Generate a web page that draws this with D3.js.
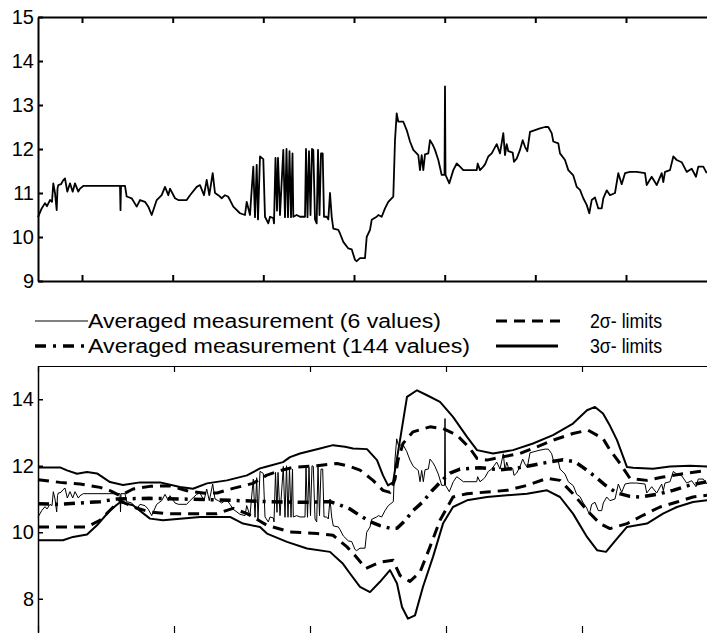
<!DOCTYPE html>
<html>
<head>
<meta charset="utf-8">
<script src="https://cdnjs.cloudflare.com/ajax/libs/d3/7.8.5/d3.min.js"></script>
<style>
  body { margin: 0; background: #fff; }
  svg { display: block; font-family: "Liberation Sans", Arial, sans-serif; }
</style>
</head>
<body>
<div id="chart"></div>
<script>

// averaged measurement over 6 values (top panel, thin line in bottom panel)
const avg6 = [[0,10.45],[3.7,10.65],[7,10.77],[9,10.7],[12,10.84],[14,10.8],[15.3,11.22],[17,11.0],[18.7,10.61],[19.5,11.1],[20.3,11.18],[23,11.2],[25,11.28],[27,11.33],[29.3,11.03],[32,11.22],[34.7,11.03],[37,11.22],[40.3,11.03],[42,11.1],[45.3,11.16],[82,11.16],[82.5,10.61],[83,11.16],[87,11.16],[88.7,10.92],[93.7,10.88],[98.7,10.69],[102,10.84],[107,10.8],[110.3,10.69],[113.7,10.5],[118.7,10.84],[123.7,10.95],[127,11.14],[130.3,10.95],[132,11.1],[137,10.88],[140.3,10.84],[148.7,10.84],[152,10.95],[158.7,11.14],[162,11.18],[166,10.95],[168.7,11.3],[171.3,10.95],[174.7,11.45],[177,11.0],[180.3,10.95],[183.7,10.88],[187,10.95],[190,10.92],[192,10.84],[195.3,10.69],[202,10.54],[207,10.5],[208.7,10.8],[212,10.5],[213,10.85],[215.3,11.6],[217,10.45],[218.7,11.64],[220,10.4],[222,11.83],[225.3,11.77],[227,10.46],[230.3,10.31],[232,10.46],[235.3,10.43],[236,10.31],[237.5,11.8],[239,10.6],[240,11.8],[242,10.5],[245.3,11.98],[247,10.45],[248.5,12.0],[250,10.45],[251.5,11.95],[253,10.45],[254.5,11.9],[255.3,10.46],[258.7,10.5],[262,10.46],[267,10.46],[268,12.0],[269.5,10.45],[271,11.95],[272.5,10.5],[274,12.0],[275.3,11.98],[277,10.4],[278.7,10.31],[280,11.98],[281.5,10.5],[283,11.9],[284.7,11.9],[286,10.46],[288.7,10.46],[290.3,10.4],[292,11.0],[293.7,10.46],[295.3,10.19],[300.3,10.16],[302,10.08],[305.3,9.89],[310.3,9.74],[313.7,9.72],[317,9.48],[318.7,9.45],[322,9.52],[327,9.52],[328.7,10.0],[332,10.16],[333.7,10.39],[338.7,10.46],[340.3,10.5],[343.7,10.46],[347,10.65],[350.3,10.8],[355.3,10.92],[357,12.2],[358.7,12.81],[360.3,12.62],[365.3,12.62],[368.7,12.43],[372,12.17],[375.3,11.98],[380.3,11.86],[382,11.52],[383.7,11.86],[385.3,11.52],[387,11.88],[390.3,11.9],[392,12.2],[394.7,12.1],[397,11.98],[400.3,11.75],[403.7,11.41],[406.5,11.41],[407,13.42],[407.5,11.41],[411.3,11.22],[415.3,11.52],[418.7,11.67],[422,11.6],[425.3,11.52],[438.7,11.52],[439.7,11.67],[442,11.52],[445.3,11.6],[447,11.65],[450.3,11.83],[453.7,11.9],[458.7,12.11],[462,11.9],[465.3,12.36],[467,11.86],[468.7,12.11],[470.3,11.95],[474.7,11.92],[476,11.71],[478.7,11.78],[482,11.98],[484.7,12.2],[487,12.05],[489.3,11.95],[492,12.39],[497,12.43],[502,12.47],[507,12.5],[510.3,12.5],[513.7,12.36],[515.3,12.17],[520.3,12.13],[522,11.9],[527,11.75],[530.3,11.52],[535.3,11.4],[538.7,11.14],[542,11.07],[545.3,10.88],[548.7,10.73],[551.3,10.54],[553.7,10.84],[557,10.9],[560.3,10.65],[563.7,10.65],[565.3,10.88],[568.7,11.06],[572,10.95],[577,11.0],[580.3,11.45],[583.7,11.2],[587,11.45],[592,11.48],[598.7,11.48],[607,11.45],[608.7,11.18],[613.7,11.37],[618.7,11.18],[623.7,11.45],[625.3,11.25],[627,11.48],[632,11.52],[635.3,11.83],[638.7,11.75],[643.7,11.7],[648.7,11.48],[653.7,11.55],[658,11.37],[660.3,11.6],[665.3,11.6],[668.7,11.45]];

// averaged measurement over 144 values
const avg144 = [[0,10.86],[22,10.84],[42,10.88],[62,10.92],[79,11.0],[112,11.02],[142,11.0],[172,10.98],[202,10.95],[232,10.92],[262,10.9],[292,10.92],[302,10.82],[312,10.7],[322,10.5],[332,10.32],[342,10.2],[352,10.12],[359,10.12],[367,10.35],[375,10.65],[385,10.92],[394,11.25],[402,11.5],[412,11.78],[422,11.9],[442,11.94],[462,11.88],[477,11.92],[492,12.0],[509,12.1],[525,12.18],[537,12.12],[545,11.95],[557,11.68],[567,11.42],[579,11.18],[592,11.08],[602,11.06],[619,11.14],[635,11.26],[652,11.42],[669,11.52]];

// 2 sigma limits
const sigma2Upper = [[0,11.58],[22,11.5],[42,11.45],[62,11.35],[72,11.25],[82,11.1],[95,11.3],[112,11.38],[132,11.4],[149,11.25],[167,11.17],[179,11.18],[195,11.32],[215,11.47],[229,11.72],[242,11.85],[255,11.95],[279,12.0],[299,12.07],[312,11.98],[322,11.87],[335,11.56],[345,11.26],[352,11.2],[357,11.6],[360,12.17],[365,12.67],[375,13.02],[392,13.17],[405,13.12],[419,12.92],[432,12.52],[439,12.22],[449,12.17],[465,12.27],[482,12.37],[499,12.57],[515,12.77],[535,12.97],[550,13.07],[565,12.82],[572,12.47],[582,12.07],[592,11.62],[609,11.56],[625,11.66],[645,11.76],[669,11.86]];
const sigma2Lower = [[0,10.16],[49,10.16],[62,10.36],[72,10.66],[82,10.95],[95,10.76],[112,10.61],[129,10.56],[179,10.56],[195,10.72],[209,10.56],[229,10.21],[252,10.01],[279,9.96],[295,9.91],[309,9.56],[317,9.3],[328,8.91],[342,9.1],[355,9.16],[362,8.7],[372,8.52],[382,8.8],[392,9.56],[402,10.36],[415,11.06],[429,11.16],[449,11.21],[469,11.26],[489,11.41],[509,11.62],[522,11.56],[535,11.16],[549,10.66],[562,10.26],[572,10.11],[589,10.26],[605,10.51],[622,10.76],[639,10.91],[655,11.06],[669,11.11]];

// 3 sigma limits
const sigma3Upper = [[0,11.95],[22,11.95],[29,11.86],[39,11.76],[49,11.81],[59,11.77],[72,11.51],[85,11.42],[102,11.5],[122,11.5],[142,11.36],[155,11.31],[169,11.47],[189,11.56],[209,11.71],[222,11.92],[229,11.98],[245,12.11],[252,12.26],[262,12.37],[282,12.52],[295,12.62],[307,12.57],[315,12.52],[329,12.5],[339,12.17],[345,11.71],[350,11.41],[355,11.5],[362,12.77],[369,14.07],[379,14.27],[389,14.12],[402,13.92],[415,13.47],[429,12.87],[439,12.47],[455,12.37],[475,12.47],[495,12.67],[515,12.92],[535,13.27],[549,13.67],[557,13.77],[565,13.57],[572,13.2],[579,12.77],[589,11.96],[595,11.94],[615,11.91],[632,11.98],[652,12.0],[669,11.98]];
const sigma3Lower = [[0,9.76],[25,9.76],[35,9.86],[49,9.93],[59,10.21],[72,10.66],[82,10.9],[95,10.81],[112,10.41],[125,10.36],[162,10.46],[192,10.46],[205,10.26],[222,10.16],[229,9.96],[249,9.71],[269,9.51],[292,9.41],[305,9.05],[312,8.76],[322,8.36],[332,8.2],[342,8.51],[352,8.86],[359,8.46],[364,7.75],[370,7.4],[377,7.5],[385,8.36],[395,9.26],[405,10.26],[415,10.76],[429,10.96],[449,11.06],[469,11.11],[489,11.16],[509,11.26],[522,11.06],[535,10.56],[549,9.86],[559,9.46],[568,9.41],[579,9.81],[589,10.16],[609,10.26],[625,10.56],[639,10.76],[655,10.91],[669,10.96]];

// tick values
const topYTicks = [9, 10, 11, 12, 13, 14, 15];
const botYTicks = [8, 10, 12, 14];
const topXTicks = [44, 134.7, 225.3, 316, 406.7, 497.3, 588, 678.7];
const botXTicks = [0, 136, 272, 408, 544, 680];

// legend labels
const legendLabels = ["Averaged measurement (6 values)", "Averaged measurement (144 values)", "2\u03c3- limits", "3\u03c3- limits"];

const width = 707;
const height = 633;

const svg = d3.select("#chart")
  .append("svg")
  .attr("width", width)
  .attr("height", height);

// shared time axis for both panels
const x = d3.scaleLinear().domain([0, 680]).range([38, 718]);
const yTop = d3.scaleLinear().domain([9, 15]).range([281, 17]);
const yBot = d3.scaleLinear().domain([7, 15]).range([632, 366]);

function styleAxis(g, w) {
  g.select(".domain").attr("stroke", "#000").attr("stroke-width", w);
  g.selectAll(".tick line").attr("stroke", "#000").attr("stroke-width", w);
  g.selectAll(".tick text").attr("font-size", "20px").attr("fill", "#000");
  g.attr("font-family", null);
}

// ---- top panel ----
svg.append("g")
  .attr("transform", `translate(0,${yTop(15)})`)
  .call(d3.axisTop(x).tickValues(topXTicks).tickSize(-6).tickSizeOuter(0).tickFormat(""))
  .call(styleAxis, 2);
svg.append("g")
  .attr("transform", `translate(0,${yTop(9)})`)
  .call(d3.axisBottom(x).tickValues(topXTicks).tickSize(-6).tickSizeOuter(0).tickFormat(""))
  .call(styleAxis, 2);
svg.append("g")
  .attr("transform", `translate(${x(0)},0)`)
  .call(d3.axisLeft(yTop).tickValues(topYTicks).tickFormat(d3.format("d")).tickSize(-5).tickSizeOuter(0).tickPadding(4))
  .call(styleAxis, 2);

const lineTop = d3.line().x(d => x(d[0])).y(d => yTop(d[1]));
svg.append("path")
  .datum(avg6)
  .attr("d", lineTop)
  .attr("fill", "none")
  .attr("stroke", "#000")
  .attr("stroke-width", 1.8)
  .attr("stroke-linejoin", "round");

// ---- legend ----
const legend = svg.append("g");
const rowY = [321, 346];
// left column
legend.append("line").attr("x1", 35).attr("x2", 88).attr("y1", rowY[0]).attr("y2", rowY[0])
  .attr("stroke", "#000").attr("stroke-width", 1);
legend.append("line").attr("x1", 35).attr("x2", 88).attr("y1", rowY[1]).attr("y2", rowY[1])
  .attr("stroke", "#000").attr("stroke-width", 3.5).attr("stroke-dasharray", "11,7,3,7");
legend.append("text").attr("x", 88).attr("y", rowY[0]).attr("dy", "0.35em")
  .attr("font-size", "20px").attr("textLength", 353).attr("lengthAdjust", "spacingAndGlyphs")
  .text(legendLabels[0]);
legend.append("text").attr("x", 88).attr("y", rowY[1]).attr("dy", "0.35em")
  .attr("font-size", "20px").attr("textLength", 382).attr("lengthAdjust", "spacingAndGlyphs")
  .text(legendLabels[1]);
// right column
legend.append("line").attr("x1", 496).attr("x2", 560).attr("y1", rowY[0]).attr("y2", rowY[0])
  .attr("stroke", "#000").attr("stroke-width", 3).attr("stroke-dasharray", "11,7");
legend.append("line").attr("x1", 496).attr("x2", 558).attr("y1", rowY[1]).attr("y2", rowY[1])
  .attr("stroke", "#000").attr("stroke-width", 3);
legend.append("text").attr("x", 590).attr("y", rowY[0]).attr("dy", "0.35em")
  .attr("font-size", "20px").attr("textLength", 72).attr("lengthAdjust", "spacingAndGlyphs")
  .text(legendLabels[2]);
legend.append("text").attr("x", 590).attr("y", rowY[1]).attr("dy", "0.35em")
  .attr("font-size", "20px").attr("textLength", 72).attr("lengthAdjust", "spacingAndGlyphs")
  .text(legendLabels[3]);

// ---- bottom panel ----
svg.append("g")
  .attr("transform", `translate(0,${yBot(15)})`)
  .call(d3.axisTop(x).tickValues(botXTicks).tickSize(-6).tickSizeOuter(0).tickFormat(""))
  .call(styleAxis, 1.2);
svg.append("g")
  .attr("transform", `translate(0,${yBot(7) + 2})`)
  .call(d3.axisBottom(x).tickValues(botXTicks).tickSize(-8).tickSizeOuter(0).tickFormat(""))
  .call(styleAxis, 1.2);
svg.append("g")
  .attr("transform", `translate(${x(0)},0)`)
  .call(d3.axisLeft(yBot).tickValues(botYTicks).tickFormat(d3.format("d")).tickSize(-5).tickSizeOuter(0).tickPadding(4))
  .call(styleAxis, 1.5);

const lineBot = d3.line().x(d => x(d[0])).y(d => yBot(d[1]));
const botSeries = [
  { data: sigma3Upper, w: 2, dash: null },
  { data: sigma3Lower, w: 2, dash: null },
  { data: avg6, w: 1, dash: null },
  { data: sigma2Upper, w: 3, dash: "11,7" },
  { data: sigma2Lower, w: 3, dash: "11,7" },
  { data: avg144, w: 3.5, dash: "11,6,3,6" }
];
svg.selectAll(".bot-line")
  .data(botSeries)
  .enter()
  .append("path")
    .attr("class", "bot-line")
    .attr("d", d => lineBot(d.data))
    .attr("fill", "none")
    .attr("stroke", "#000")
    .attr("stroke-width", d => d.w)
    .attr("stroke-dasharray", d => d.dash)
    .attr("stroke-linejoin", "round");
</script>
</body>
</html>
